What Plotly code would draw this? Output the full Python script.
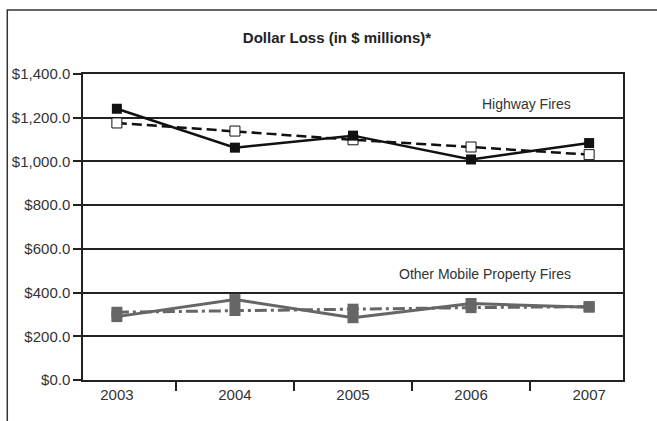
import plotly.graph_objects as go

years = ["2003", "2004", "2005", "2006", "2007"]
highway_solid = [1241, 1063, 1118, 1009, 1084]
highway_dashed = [1176, 1139, 1099, 1066, 1031]
other_solid = [290, 368, 285, 350, 333]
other_dashdot = [310, 318, 324, 331, 336]
y_ticks = [0, 200, 400, 600, 800, 1000, 1200, 1400]
y_tick_text = ["$0.0", "$200.0", "$400.0", "$600.0", "$800.0", "$1,000.0", "$1,200.0", "$1,400.0"]

fig = go.Figure()

fig.add_trace(go.Scatter(
    x=years, y=highway_dashed, mode="lines+markers",
    line=dict(color="#111111", width=2.5, dash="10px,5px"),
    marker=dict(symbol="square", size=10, color="white", line=dict(color="#111111", width=1)),
    showlegend=False))
fig.add_trace(go.Scatter(
    x=years, y=highway_solid, mode="lines+markers",
    line=dict(color="#111111", width=2.5),
    marker=dict(symbol="square", size=10, color="#111111"),
    showlegend=False))
fig.add_trace(go.Scatter(
    x=years, y=other_dashdot, mode="lines+markers",
    line=dict(color="#666666", width=3, dash="12px,4px,3px,4px"),
    marker=dict(symbol="square", size=11, color="#666666"),
    showlegend=False))
fig.add_trace(go.Scatter(
    x=years, y=other_solid, mode="lines+markers",
    line=dict(color="#666666", width=3),
    marker=dict(symbol="square", size=11, color="#666666"),
    showlegend=False))

fig.update_layout(
    width=657, height=421,
    margin=dict(l=81, r=34, t=74, b=41),
    paper_bgcolor="white", plot_bgcolor="white",
    font=dict(family="Liberation Sans, Arial, sans-serif", size=15, color="#333333"),
    title=dict(text="<b>Dollar Loss (in $ millions)*</b>", x=337/657, xanchor="center",
               y=1 - 38/421, yanchor="middle",
               font=dict(family="Liberation Sans, Arial", size=15, color="#222222")),
    xaxis=dict(type="category", showgrid=False, showline=True, linecolor="#222222", linewidth=1.5,
               mirror=True, ticks="outside", tickson="boundaries", ticklen=9, tickwidth=1.5,
               tickcolor="#222222", tickfont=dict(size=15, color="#333333")),
    yaxis=dict(range=[0, 1400], tickvals=y_ticks, ticktext=y_tick_text, showgrid=True,
               gridcolor="#222222", gridwidth=1.5, showline=True, linecolor="#222222",
               linewidth=1.5, mirror=True, ticks="outside", ticklen=8, tickwidth=1.5,
               tickcolor="#222222", zeroline=False, tickfont=dict(size=15, color="#333333")),
    shapes=[dict(type="rect", xref="paper", yref="paper",
                 x0=(5 - 81) / 542, x1=(700 - 81) / 542,
                 y0=(380 - 470) / 306, y1=(380 - 10) / 306,
                 line=dict(color="#333333", width=1.5), fillcolor="rgba(0,0,0,0)", layer="below")],
    annotations=[
        dict(text="Highway Fires", xref="paper", yref="paper",
             x=(573 - 81) / 542, y=(380 - 104) / 306, xanchor="right", yanchor="middle",
             showarrow=False, font=dict(family="Liberation Sans, Arial", size=14, color="#333333")),
        dict(text="Other Mobile Property Fires", xref="paper", yref="paper",
             x=(573 - 81) / 542, y=(380 - 274) / 306, xanchor="right", yanchor="middle",
             showarrow=False, font=dict(family="Liberation Sans, Arial", size=14, color="#333333")),
    ],
)

fig.write_html("out.html", config={"displayModeBar": False},
               post_script="document.body.style.margin='0';document.body.style.overflow='hidden';")
